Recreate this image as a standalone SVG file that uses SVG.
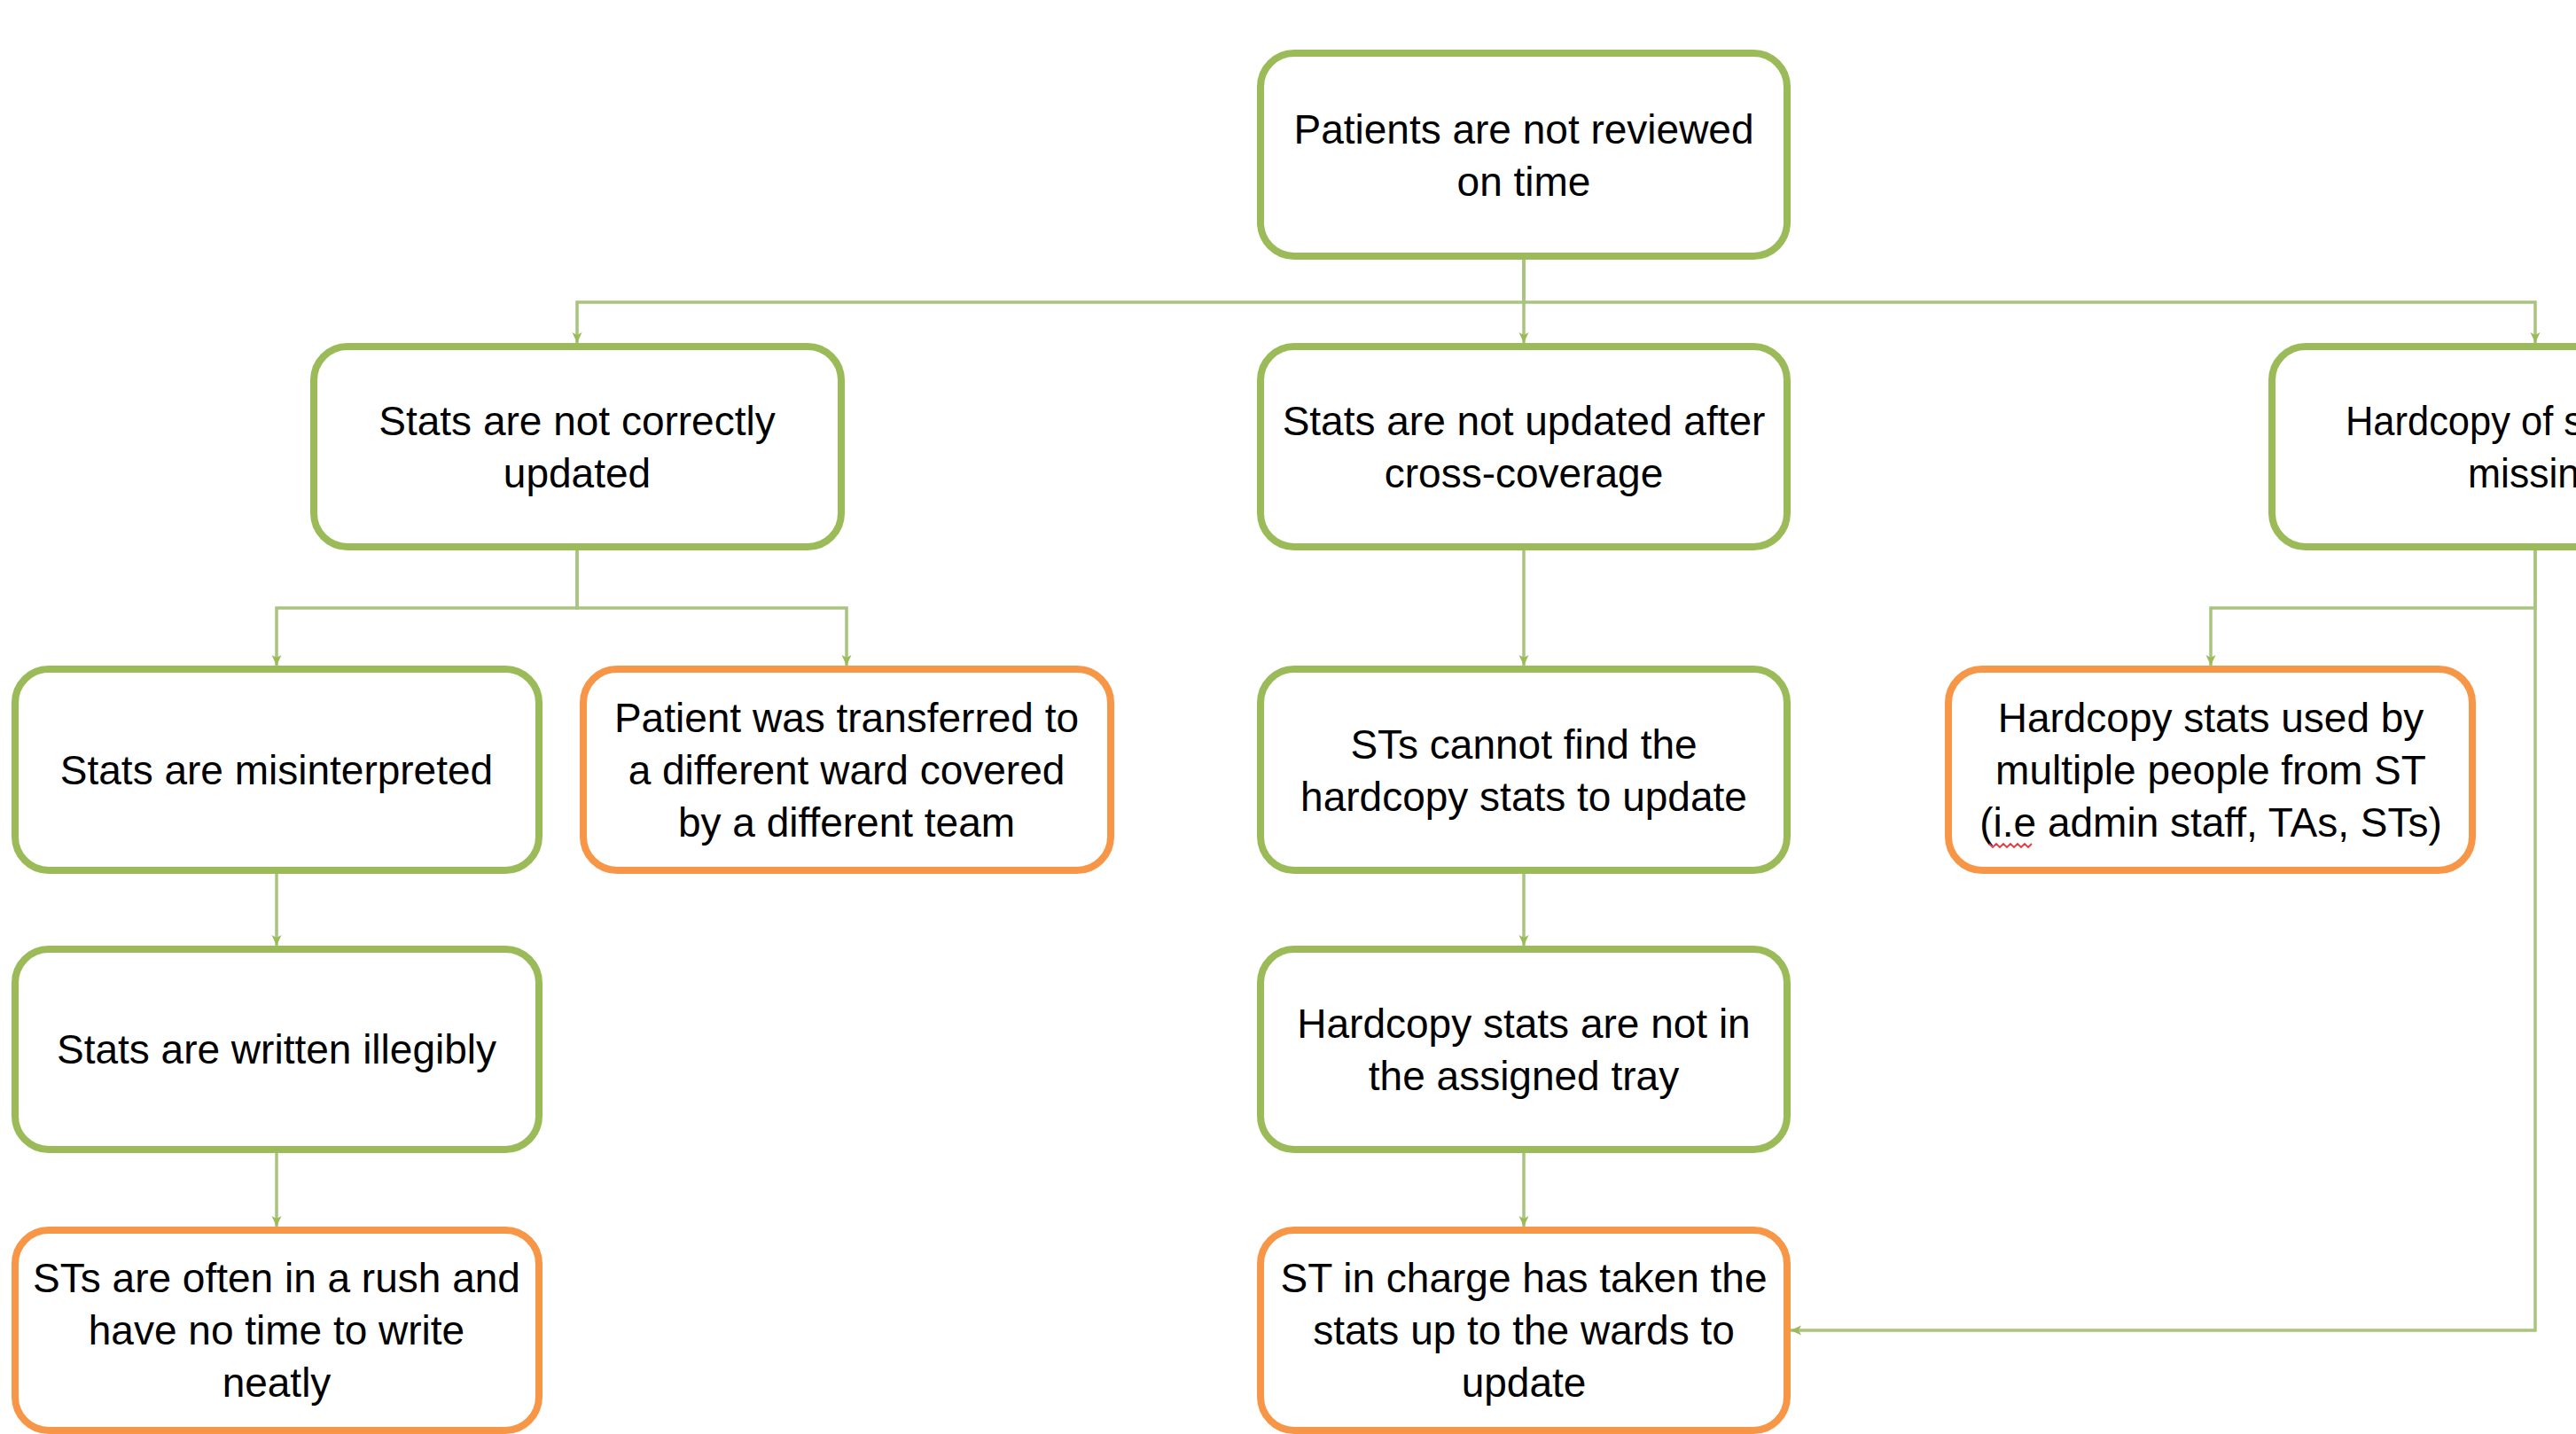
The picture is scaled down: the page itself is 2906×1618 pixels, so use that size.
<svg xmlns="http://www.w3.org/2000/svg" width="2906" height="1618" viewBox="0 0 2906 1618">
<style>
.g{fill:#fff;stroke:#9BBB59;stroke-width:8}
.o{fill:#fff;stroke:#F79646;stroke-width:8}
.t{font-family:"Liberation Sans",Arial,sans-serif;font-size:46px;fill:#000;text-anchor:middle}
.ts{font-family:"Liberation Sans",Arial,sans-serif;font-size:46px;fill:#000;text-anchor:start}
.c{fill:none;stroke:#a9c47f;stroke-width:3.5;marker-end:url(#ah)}
</style>
<defs>
<marker id="ah" markerUnits="userSpaceOnUse" markerWidth="14" markerHeight="14" viewBox="0 0 14 14" refX="13" refY="7" orient="auto">
<path d="M1,1.5 L13,7 L1,12.5 L4,7 z" fill="#9BBB59"/>
</marker>
</defs>
<rect width="2906" height="1618" fill="#fff"/>
<g id="connectors">
<path class="c" d="M1719,293 V341 H651 V387"/>
<path class="c" d="M1719,293 V387"/>
<path class="c" d="M1719,293 V341 H2860 V387"/>
<path class="c" d="M651,621 V686 H312 V751"/>
<path class="c" d="M651,621 V686 H955 V751"/>
<path class="c" d="M1719,621 V751"/>
<path class="c" d="M2860,621 V686 H2494 V751"/>
<path class="c" d="M2860,621 V1501 H2020"/>
<path class="c" d="M312,986 V1067"/>
<path class="c" d="M312,1301 V1384"/>
<path class="c" d="M1719,986 V1067"/>
<path class="c" d="M1719,1301 V1384"/>
</g>
<g id="n-top">
<rect class="g" x="1422" y="60" width="594" height="229" rx="38"/>
<text class="t" x="1719" y="162">Patients are not reviewed</text>
<text class="t" x="1719" y="221">on time</text>
</g>
<g id="n-not-correct">
<rect class="g" x="354" y="391" width="595" height="226" rx="38"/>
<text class="t" x="651" y="491">Stats are not correctly</text>
<text class="t" x="651" y="550">updated</text>
</g>
<g id="n-cross">
<rect class="g" x="1422" y="391" width="594" height="226" rx="38"/>
<text class="t" x="1719" y="491">Stats are not updated after</text>
<text class="t" x="1719" y="550">cross-coverage</text>
</g>
<g id="n-hardcopy-missing">
<rect class="g" x="2563" y="391" width="595" height="226" rx="38"/>
<text class="ts" x="2646" y="491" textLength="268" lengthAdjust="spacingAndGlyphs">Hardcopy of s</text>
<text class="ts" x="2784" y="550" textLength="126" lengthAdjust="spacingAndGlyphs">missin</text>
</g>
<g id="n-misinterpreted">
<rect class="g" x="17" y="755" width="591" height="227" rx="38"/>
<text class="t" x="312" y="885">Stats are misinterpreted</text>
</g>
<g id="n-transferred">
<rect class="o" x="658" y="755" width="595" height="227" rx="38"/>
<text class="t" x="955" y="826">Patient was transferred to</text>
<text class="t" x="955" y="885">a different ward covered</text>
<text class="t" x="955" y="944">by a different team</text>
</g>
<g id="n-cannot-find">
<rect class="g" x="1422" y="755" width="594" height="227" rx="38"/>
<text class="t" x="1719" y="856">STs cannot find the</text>
<text class="t" x="1719" y="915">hardcopy stats to update</text>
</g>
<g id="n-multiple-people">
<rect class="o" x="2198" y="755" width="591" height="227" rx="38"/>
<text class="t" x="2494" y="826">Hardcopy stats used by</text>
<text class="t" x="2494" y="885">multiple people from ST</text>
<text class="t" x="2494" y="944">(i.e admin staff, TAs, STs)</text>
<path d="M2244,952 l4,4 l4,-4 l4,4 l4,-4 l4,4 l4,-4 l4,4 l4,-4 l4,4 l4,-4 l4,4 l4,-4" fill="none" stroke="#e8383d" stroke-width="1.8"/>
</g>
<g id="n-illegibly">
<rect class="g" x="17" y="1071" width="591" height="226" rx="38"/>
<text class="t" x="312" y="1200">Stats are written illegibly</text>
</g>
<g id="n-tray">
<rect class="g" x="1422" y="1071" width="594" height="226" rx="38"/>
<text class="t" x="1719" y="1171">Hardcopy stats are not in</text>
<text class="t" x="1719" y="1230">the assigned tray</text>
</g>
<g id="n-rush">
<rect class="o" x="17" y="1388" width="591" height="226" rx="38"/>
<text class="t" x="312" y="1458">STs are often in a rush and</text>
<text class="t" x="312" y="1517">have no time to write</text>
<text class="t" x="312" y="1576">neatly</text>
</g>
<g id="n-wards">
<rect class="o" x="1422" y="1388" width="594" height="226" rx="38"/>
<text class="t" x="1719" y="1458">ST in charge has taken the</text>
<text class="t" x="1719" y="1517">stats up to the wards to</text>
<text class="t" x="1719" y="1576">update</text>
</g>
</svg>
